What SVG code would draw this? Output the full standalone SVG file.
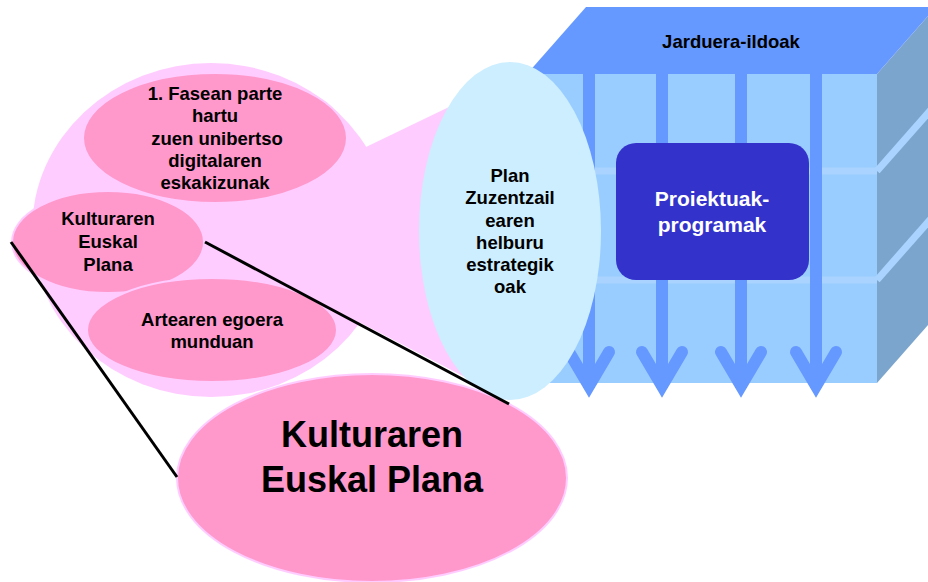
<svg xmlns="http://www.w3.org/2000/svg" width="928" height="582" viewBox="0 0 928 582">
<defs>
<style>
.t{font-family:"Liberation Sans",Arial,sans-serif;font-weight:bold;text-anchor:middle;fill:#000}
.s18{font-size:18.5px}
.pink{fill:#FF99CC;stroke:#FFCCFF;stroke-width:2}
.bar{stroke:#6699FF;stroke-width:12;fill:none}
.head{stroke:#6699FF;stroke-width:12;fill:none;stroke-linecap:round;stroke-linejoin:miter}
.stripe{stroke:#AAD4FF;stroke-width:7;fill:none}
.conn{stroke:#000;stroke-width:3;fill:none}
</style>
</defs>
<rect width="928" height="582" fill="#FFFFFF"/>
<g id="cube">
  <polygon points="527,74 877,74 877,383 527,383" fill="#99CCFF"/>
  <polygon points="877,74 936,7 936,316 877,383" fill="#7BA5CC"/>
  <line class="stripe" x1="527" y1="171" x2="877" y2="171"/>
  <line class="stripe" x1="527" y1="280" x2="877" y2="280"/>
  <line class="stripe" x1="877" y1="171" x2="936" y2="104"/>
  <line class="stripe" x1="877" y1="280" x2="936" y2="213"/>
  <line class="bar" x1="589" y1="74" x2="589" y2="388"/>
  <line class="bar" x1="662" y1="74" x2="662" y2="388"/>
  <line class="bar" x1="741" y1="74" x2="741" y2="388"/>
  <line class="bar" x1="816" y1="74" x2="816" y2="388"/>
  <path class="head" d="M569 352 L589 386 L609 352"/>
  <path class="head" d="M642 352 L662 386 L682 352"/>
  <path class="head" d="M721 352 L741 386 L761 352"/>
  <path class="head" d="M796 352 L816 386 L836 352"/>
  <polygon points="586,7 936,7 877,74 527,74" fill="#6699FF"/>
  <text class="t s18" x="731" y="48">Jarduera-ildoak</text>
</g>
<g id="proiektuak">
  <rect x="616" y="143" width="193" height="137" rx="20" ry="20" fill="#3333CC"/>
  <text class="t" x="712" y="206" font-size="21" style="fill:#FFFFFF">Proiektuak-</text>
  <text class="t" x="712" y="232" font-size="21" style="fill:#FFFFFF">programak</text>
</g>
<g id="zoom-area">
  <polygon points="366,147 505,80 509,400 205,242" fill="#FFCCFF"/>
  <ellipse cx="211" cy="230" rx="179" ry="167" fill="#FFCCFF"/>
</g>
<g id="fasean">
  <ellipse class="pink" cx="215" cy="138" rx="132" ry="65"/>
  <text class="t s18" x="215" y="100">1. Fasean parte</text>
  <text class="t s18" x="215" y="122">hartu</text>
  <text class="t s18" x="217" y="145">zuen unibertso</text>
  <text class="t s18" x="215" y="167">digitalaren</text>
  <text class="t s18" x="215" y="189">eskakizunak</text>
</g>
<g id="kep-small">
  <ellipse class="pink" cx="108" cy="242" rx="96" ry="51"/>
  <text class="t s18" x="108" y="225">Kulturaren</text>
  <text class="t s18" x="108" y="248">Euskal</text>
  <text class="t s18" x="108" y="271">Plana</text>
</g>
<g id="artearen">
  <ellipse class="pink" cx="212" cy="330" rx="125" ry="52"/>
  <text class="t s18" x="212" y="326">Artearen egoera</text>
  <text class="t s18" x="212" y="348">munduan</text>
</g>
<g id="plan">
  <ellipse cx="510" cy="231" rx="91" ry="169" fill="#CCEEFF"/>
  <text class="t s18" x="510" y="182">Plan</text>
  <text class="t s18" x="510" y="204">Zuzentzail</text>
  <text class="t s18" x="510" y="227">earen</text>
  <text class="t s18" x="510" y="249">helburu</text>
  <text class="t s18" x="510" y="271">estrategik</text>
  <text class="t s18" x="510" y="293">oak</text>
</g>
<g id="kep-big">
  <ellipse class="pink" cx="372" cy="478" rx="195" ry="104"/>
  <text class="t" x="372" y="447" font-size="36">Kulturaren</text>
  <text class="t" x="372" y="492" font-size="36">Euskal Plana</text>
</g>
<g id="connectors">
  <line class="conn" x1="11" y1="242" x2="177" y2="477"/>
  <line class="conn" x1="205" y1="242" x2="509" y2="404"/>
</g>
</svg>
